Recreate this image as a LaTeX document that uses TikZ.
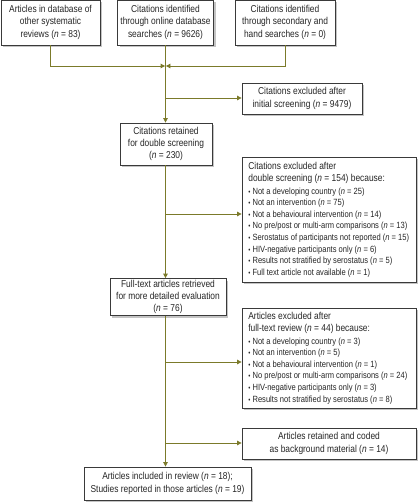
\documentclass[tikz,border=0pt]{standalone}
\usepackage{fontspec}
\usepackage{graphicx}
\setmainfont{Liberation Sans}
\usetikzlibrary{arrows.meta,shadows}
\definecolor{olive}{HTML}{7B7A2A}
\definecolor{bordr}{HTML}{3A3A3A}
\definecolor{shad}{HTML}{C4C4C4}
\newcommand{\nn}{\textit{n}}
\newcommand{\cond}[1]{\scalebox{0.84}[1]{#1}}
\newcommand{\ctext}[1]{\cond{\begin{tabular}{@{}c@{}}#1\end{tabular}}}
\newcommand{\ltext}[2]{\cond{\parbox{192pt}{\raggedright #1\par\vspace{1pt}%
  \fontsize{9}{11.6}\selectfont #2}}}
\newcommand{\bu}{{\scalebox{0.8}{\textbullet}}\ }
\tikzset{
  box/.style={draw=bordr, line width=0.8pt, fill=white, align=center, inner sep=0pt,
    font=\fontsize{10}{12.3}\selectfont, text=black!85,
    drop shadow={shadow xshift=2.2pt, shadow yshift=-2.2pt, fill=shad, opacity=1}},
  ln/.style={draw=olive, line width=0.8pt},
  arr/.style={ln, -{Triangle[length=4.5pt,width=4.5pt]}},
}
\begin{document}
\begin{tikzpicture}[x=1pt,y=1pt]
\useasboundingbox (0,0) rectangle (419,-503);
% top boxes
\node[box, minimum width=99pt, minimum height=45pt] (b1) at (50.5,-22.5)
  {\ctext{Articles in database of\\other systematic\\reviews (\nn{} = 83)}};
\node[box, minimum width=96pt, minimum height=45pt] (b2) at (165.5,-22.5)
  {\ctext{Citations identified\\through online database\\searches (\nn{} = 9626)}};
\node[box, minimum width=100pt, minimum height=45pt] (b3) at (285,-22.5)
  {\ctext{Citations identified\\through secondary and\\hand searches (\nn{} = 0)}};
% right boxes
\node[box, minimum width=120pt, minimum height=31pt] (ex1) at (302,-98.5)
  {\ctext{Citations excluded after\\initial screening (\nn{} = 9479)}};
\node[box, minimum width=174pt, minimum height=125pt] (ex2) at (329,-219.5)
  {\ltext{Citations excluded after\\double screening (\nn{} = 154) because:}
   {\bu Not a developing country (\nn{} = 25)\\
   \bu Not an intervention (\nn{} = 75)\\
   \bu Not a behavioural intervention (\nn{} = 14)\\
   \bu No pre/post or multi-arm comparisons (\nn{} = 13)\\
   \bu Serostatus of participants not reported (\nn{} = 15)\\
   \bu HIV-negative participants only (\nn{} = 6)\\
   \bu Results not stratified by serostatus (\nn{} = 5)\\
   \bu Full text article not available (\nn{} = 1)}};
\node[box, minimum width=174pt, minimum height=100pt] (ex3) at (329,-358)
  {\ltext{Articles excluded after\\full-text review (\nn{} = 44) because:}
   {\bu Not a developing country (\nn{} = 3)\\
   \bu Not an intervention (\nn{} = 5)\\
   \bu Not a behavioural intervention (\nn{} = 1)\\
   \bu No pre/post or multi-arm comparisons (\nn{} = 24)\\
   \bu HIV-negative participants only (\nn{} = 3)\\
   \bu Results not stratified by serostatus (\nn{} = 8)}};
\node[box, minimum width=174pt, minimum height=31pt] (bg) at (329,-443.5)
  {\ctext{Articles retained and coded\\as background material (\nn{} = 14)}};
% center boxes
\node[box, minimum width=92pt, minimum height=42pt] (ret) at (166,-144)
  {\ctext{Citations retained\\for double screening\\(\nn{} = 230)}};
\node[box, minimum width=116pt, minimum height=32pt] (full) at (168,-297)
  {\ctext{Full-text articles retrieved\\for more detailed evaluation\\(\nn{} = 76)}};
\node[box, minimum width=167pt, minimum height=33pt] (fin) at (167.5,-483.5)
  {\ctext{Articles included in review (\nn{} = 18);\\Studies reported in those articles (\nn{} = 19)}};
% junction coordinates
\coordinate (j0) at (165.5,-66);
\coordinate (j1) at (165.5,-98);
\coordinate (j2) at (165.5,-214);
\coordinate (j3) at (165.5,-362);
\coordinate (j4) at (165.5,-443);
% connectors
\draw[arr] (b1.south) |- ([xshift=-0.4pt]j0);
\draw[arr] (b3.south) |- ([xshift=0.4pt]j0);
\draw[arr] (b2.south -| j0) -- (ret.north -| j0);
\draw[arr] (j1) -- (j1 -| ex1.west);
\draw[arr] (ret.south -| j0) -- (full.north -| j0);
\draw[arr] (j2) -- (j2 -| ex2.west);
\draw[arr] (full.south -| j0) -- (fin.north -| j0);
\draw[arr] (j3) -- (j3 -| ex3.west);
\draw[arr] (j4) -- (j4 -| bg.west);
\end{tikzpicture}
\end{document}
